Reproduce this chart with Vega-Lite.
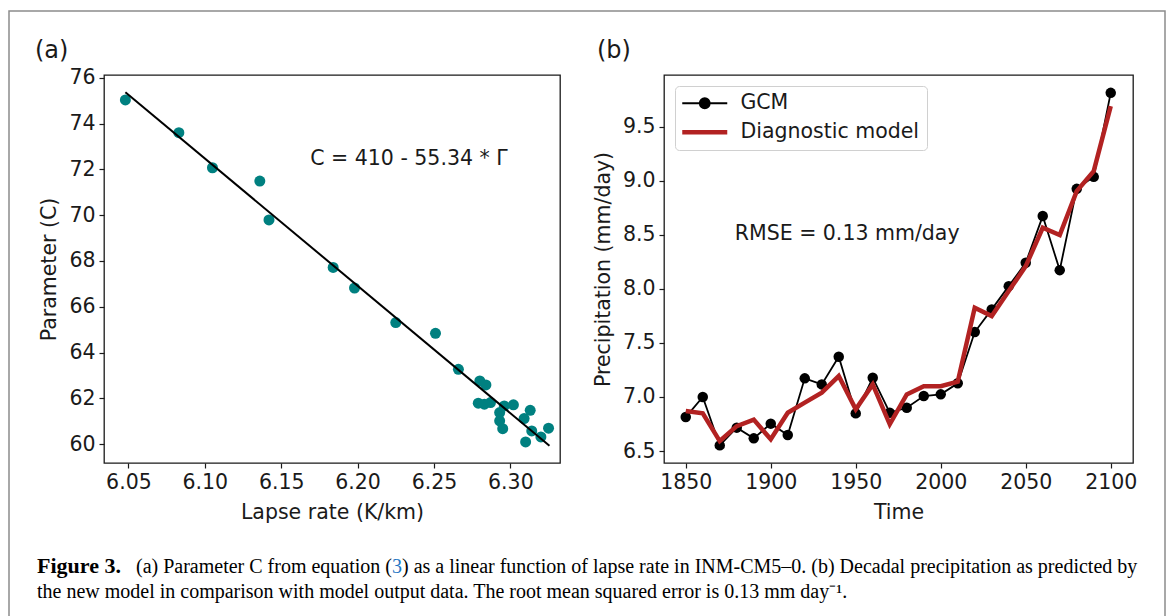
{
  "$schema": "https://vega.github.io/schema/vega-lite/v6.json",
  "padding": {"left": 8, "top": 10, "right": 0, "bottom": 0},
  "autosize": {"type": "pad"},
  "background": "white",
  "bounds": "flush",
  "columns": 2,
  "spacing": {"row": 83, "column": 104},
  "resolve": {"scale": {"color": "independent"}, "legend": {"color": "independent"}},
  "config": {
    "font": "DejaVu Sans",
    "view": {"stroke": "#1a1a1a", "strokeWidth": 1.3},
    "axis": {"grid": false, "domain": false, "tickColor": "#1a1a1a", "tickSize": 5, "tickWidth": 1.2,
      "labelFont": "DejaVu Sans", "labelFontSize": 20.5, "labelColor": "#1a1a1a", "labelPadding": 4,
      "labelOverlap": false, "labelFlush": false,
      "titleFont": "DejaVu Sans", "titleFontSize": 20.5, "titleFontWeight": "normal", "titleColor": "#1a1a1a"},
    "axisX": {"titlePadding": 10},
    "axisY": {"titlePadding": 9},
    "title": {"font": "DejaVu Sans", "fontSize": 24, "fontWeight": "normal", "color": "#1a1a1a", "anchor": "start", "frame": "group"}
  },
  "datasets": {
    "a": [
      {"lapse": 6.048, "C": 75.03}, {"lapse": 6.083, "C": 73.60}, {"lapse": 6.105, "C": 72.07},
      {"lapse": 6.136, "C": 71.49}, {"lapse": 6.142, "C": 69.79}, {"lapse": 6.184, "C": 67.72},
      {"lapse": 6.198, "C": 66.82}, {"lapse": 6.225, "C": 65.31}, {"lapse": 6.251, "C": 64.84},
      {"lapse": 6.266, "C": 63.27}, {"lapse": 6.280, "C": 62.76}, {"lapse": 6.284, "C": 62.59},
      {"lapse": 6.279, "C": 61.79}, {"lapse": 6.283, "C": 61.75}, {"lapse": 6.287, "C": 61.82},
      {"lapse": 6.293, "C": 61.38}, {"lapse": 6.296, "C": 61.67}, {"lapse": 6.302, "C": 61.72},
      {"lapse": 6.293, "C": 61.02}, {"lapse": 6.295, "C": 60.68}, {"lapse": 6.309, "C": 61.12},
      {"lapse": 6.313, "C": 61.48}, {"lapse": 6.314, "C": 60.58}, {"lapse": 6.310, "C": 60.10},
      {"lapse": 6.320, "C": 60.32}, {"lapse": 6.325, "C": 60.70}
    ],
    "fit": [{"lapse": 6.048, "C": 75.37}, {"lapse": 6.3256, "C": 59.93}],
    "b": [
      {"year": 1850, "series": "GCM", "value": 6.814}, {"year": 1860, "series": "GCM", "value": 7.0},
      {"year": 1870, "series": "GCM", "value": 6.552}, {"year": 1880, "series": "GCM", "value": 6.716},
      {"year": 1890, "series": "GCM", "value": 6.617}, {"year": 1900, "series": "GCM", "value": 6.753},
      {"year": 1910, "series": "GCM", "value": 6.648}, {"year": 1920, "series": "GCM", "value": 7.172},
      {"year": 1930, "series": "GCM", "value": 7.116}, {"year": 1940, "series": "GCM", "value": 7.372},
      {"year": 1950, "series": "GCM", "value": 6.848}, {"year": 1960, "series": "GCM", "value": 7.178},
      {"year": 1970, "series": "GCM", "value": 6.854}, {"year": 1980, "series": "GCM", "value": 6.90},
      {"year": 1990, "series": "GCM", "value": 7.008}, {"year": 2000, "series": "GCM", "value": 7.024},
      {"year": 2010, "series": "GCM", "value": 7.126}, {"year": 2020, "series": "GCM", "value": 7.60},
      {"year": 2030, "series": "GCM", "value": 7.81}, {"year": 2040, "series": "GCM", "value": 8.025},
      {"year": 2050, "series": "GCM", "value": 8.241}, {"year": 2060, "series": "GCM", "value": 8.673},
      {"year": 2070, "series": "GCM", "value": 8.173}, {"year": 2080, "series": "GCM", "value": 8.925},
      {"year": 2090, "series": "GCM", "value": 9.036}, {"year": 2100, "series": "GCM", "value": 9.813},
      {"year": 1850, "series": "Diagnostic model", "value": 6.87}, {"year": 1860, "series": "Diagnostic model", "value": 6.848},
      {"year": 1870, "series": "Diagnostic model", "value": 6.592}, {"year": 1880, "series": "Diagnostic model", "value": 6.73},
      {"year": 1890, "series": "Diagnostic model", "value": 6.79}, {"year": 1900, "series": "Diagnostic model", "value": 6.608},
      {"year": 1910, "series": "Diagnostic model", "value": 6.854}, {"year": 1920, "series": "Diagnostic model", "value": 6.947},
      {"year": 1930, "series": "Diagnostic model", "value": 7.039}, {"year": 1940, "series": "Diagnostic model", "value": 7.193},
      {"year": 1950, "series": "Diagnostic model", "value": 6.885}, {"year": 1960, "series": "Diagnostic model", "value": 7.116},
      {"year": 1970, "series": "Diagnostic model", "value": 6.747}, {"year": 1980, "series": "Diagnostic model", "value": 7.024},
      {"year": 1990, "series": "Diagnostic model", "value": 7.10}, {"year": 2000, "series": "Diagnostic model", "value": 7.10},
      {"year": 2010, "series": "Diagnostic model", "value": 7.141}, {"year": 2020, "series": "Diagnostic model", "value": 7.825},
      {"year": 2030, "series": "Diagnostic model", "value": 7.748}, {"year": 2040, "series": "Diagnostic model", "value": 7.979},
      {"year": 2050, "series": "Diagnostic model", "value": 8.21}, {"year": 2060, "series": "Diagnostic model", "value": 8.565},
      {"year": 2070, "series": "Diagnostic model", "value": 8.497}, {"year": 2080, "series": "Diagnostic model", "value": 8.904},
      {"year": 2090, "series": "Diagnostic model", "value": 9.089}, {"year": 2100, "series": "Diagnostic model", "value": 9.69}
    ],
    "caption": [
      {"part": "label", "text": "Figure 3."},
      {"part": "line1a", "text": "(a) Parameter C from equation ("},
      {"part": "line1b", "text": "3"},
      {"part": "line1c", "text": ") as a linear function of lapse rate in INM-CM5–0. (b) Decadal precipitation as predicted by"},
      {"part": "line2", "text": "the new model in comparison with model output data. The root mean squared error is 0.13 mm day⁻¹."}
    ],
    "frame": [{"frame": "figure"}]
  },
  "concat": [
    {
      "width": 456, "height": 388,
      "title": {"text": "(a)", "dx": -69, "offset": 5},
      "layer": [
        {
          "data": {"name": "a"},
          "mark": {"type": "circle", "size": 121, "color": "#008080", "opacity": 1},
          "encoding": {
            "x": {"field": "lapse", "type": "quantitative", "scale": {"domain": [6.034, 6.3325], "nice": false, "zero": false},
              "axis": {"values": [6.05, 6.1, 6.15, 6.2, 6.25, 6.3], "format": ".2f", "title": "Lapse rate (K/km)"}},
            "y": {"field": "C", "type": "quantitative", "scale": {"domain": [59.18, 76.12], "nice": false, "zero": false},
              "axis": {"values": [60, 62, 64, 66, 68, 70, 72, 74, 76], "title": "Parameter (C)"}}
          }
        },
        {
          "data": {"name": "fit"},
          "mark": {"type": "line", "color": "black", "strokeWidth": 2},
          "encoding": {
            "x": {"field": "lapse", "type": "quantitative"},
            "y": {"field": "C", "type": "quantitative"}
          }
        },
        {
          "data": {"values": [{"label": "C = 410 - 55.34 * Γ"}]},
          "mark": {"type": "text", "align": "left", "baseline": "middle", "fontSize": 20.5, "font": "DejaVu Sans", "color": "#1a1a1a"},
          "encoding": {
            "x": {"datum": 6.169, "type": "quantitative"},
            "y": {"datum": 72.44, "type": "quantitative"},
            "text": {"field": "label"}
          }
        }
      ]
    },
    {
      "width": 469, "height": 388,
      "title": {"text": "(b)", "dx": -67, "offset": 12},
      "layer": [
        {
          "data": {"name": "b"},
          "transform": [{"filter": "datum.series === 'GCM'"}],
          "mark": {"type": "line", "strokeWidth": 1.8},
          "encoding": {
            "x": {"field": "year", "type": "quantitative", "scale": {"domain": [1837.2, 2113.1], "nice": false, "zero": false},
              "axis": {"values": [1850, 1900, 1950, 2000, 2050, 2100], "format": "d", "title": "Time"}},
            "y": {"field": "value", "type": "quantitative", "scale": {"domain": [6.389, 9.978], "nice": false, "zero": false},
              "axis": {"values": [6.5, 7.0, 7.5, 8.0, 8.5, 9.0, 9.5], "format": ".1f", "title": "Precipitation (mm/day)"}},
            "color": {"field": "series", "type": "nominal",
              "scale": {"domain": ["GCM", "Diagnostic model"], "range": ["black", "#b22222"]},
              "legend": {"title": null, "orient": "top-left", "offset": 11, "padding": 7,
                "labelFont": "DejaVu Sans", "labelFontSize": 20.5, "labelColor": "#1a1a1a", "labelLimit": 0,
                "symbolType": "stroke", "symbolSize": 100, "symbolOffset": 12.5, "labelOffset": 25.4,
                "rowPadding": 8, "strokeColor": "#d0d0d0", "fillColor": "white", "cornerRadius": 4,
                "encode": {"symbols": {"update": {
                  "shape": {"signal": "datum.value === 'GCM' ? 'M-4.5,0L4.5,0M1,0A1,1,0,1,1,-1,0A1,1,0,1,1,1,0Z' : 'M-4.5,0L4.5,0'"},
                  "fill": {"signal": "datum.value === 'GCM' ? 'black' : 'transparent'"},
                  "strokeWidth": {"signal": "datum.value === 'GCM' ? 1.8 : 4.5"},
                  "opacity": {"value": 1}
                }}}}
            }
          }
        },
        {
          "data": {"name": "b"},
          "transform": [{"filter": "datum.series === 'GCM'"}],
          "mark": {"type": "circle", "size": 110, "color": "black", "opacity": 1},
          "encoding": {
            "x": {"field": "year", "type": "quantitative"},
            "y": {"field": "value", "type": "quantitative"}
          }
        },
        {
          "data": {"name": "b"},
          "transform": [{"filter": "datum.series === 'Diagnostic model'"}],
          "mark": {"type": "line", "strokeWidth": 4.5},
          "encoding": {
            "x": {"field": "year", "type": "quantitative"},
            "y": {"field": "value", "type": "quantitative"},
            "color": {"field": "series", "type": "nominal"}
          }
        },
        {
          "data": {"values": [{"label": "RMSE = 0.13 mm/day"}]},
          "mark": {"type": "text", "align": "left", "baseline": "middle", "fontSize": 20.5, "font": "DejaVu Sans", "color": "#1a1a1a"},
          "encoding": {
            "x": {"datum": 1878.8, "type": "quantitative"},
            "y": {"datum": 8.503, "type": "quantitative"},
            "text": {"field": "label"}
          }
        }
      ]
    },
    {
      "width": 456, "height": 40,
      "view": {"stroke": null},
      "layer": [
        {
          "data": {"name": "frame"},
          "mark": {"type": "rect", "fillOpacity": 0, "stroke": "#8c8c8c", "strokeWidth": 1.5},
          "encoding": {
            "x": {"datum": 0, "type": "quantitative", "scale": {"domain": [0, 1], "range": [-95, 1061]}, "axis": null},
            "x2": {"datum": 1},
            "y": {"datum": 0, "type": "quantitative", "scale": {"domain": [0, 1], "range": [85, -535]}, "axis": null},
            "y2": {"datum": 1}
          }
        },
        {
          "data": {"name": "caption"},
          "transform": [{"filter": "datum.part === 'label'"}],
          "mark": {"type": "text", "align": "left", "baseline": "alphabetic", "font": "Liberation Serif", "fontWeight": "bold", "fontSize": 22, "color": "black"},
          "encoding": {
            "x": {"datum": 0.0242, "type": "quantitative"},
            "y": {"datum": 0.0935, "type": "quantitative"},
            "text": {"field": "text"}
          }
        },
        {
          "data": {"name": "caption"},
          "transform": [{"filter": "datum.part === 'line1a'"}],
          "mark": {"type": "text", "align": "left", "baseline": "alphabetic", "font": "Liberation Serif", "fontSize": 20, "color": "black", "dx": 99},
          "encoding": {
            "x": {"datum": 0.0242, "type": "quantitative"},
            "y": {"datum": 0.0935, "type": "quantitative"},
            "text": {"field": "text"}
          }
        },
        {
          "data": {"name": "caption"},
          "transform": [{"filter": "datum.part === 'line1b'"}],
          "mark": {"type": "text", "align": "left", "baseline": "alphabetic", "font": "Liberation Serif", "fontSize": 20, "color": "#1f77c4", "dx": 355},
          "encoding": {
            "x": {"datum": 0.0242, "type": "quantitative"},
            "y": {"datum": 0.0935, "type": "quantitative"},
            "text": {"field": "text"}
          }
        },
        {
          "data": {"name": "caption"},
          "transform": [{"filter": "datum.part === 'line1c'"}],
          "mark": {"type": "text", "align": "left", "baseline": "alphabetic", "font": "Liberation Serif", "fontSize": 20, "color": "black", "dx": 365},
          "encoding": {
            "x": {"datum": 0.0242, "type": "quantitative"},
            "y": {"datum": 0.0935, "type": "quantitative"},
            "text": {"field": "text"}
          }
        },
        {
          "data": {"name": "caption"},
          "transform": [{"filter": "datum.part === 'line2'"}],
          "mark": {"type": "text", "align": "left", "baseline": "alphabetic", "font": "Liberation Serif", "fontSize": 20, "color": "black", "dy": 25},
          "encoding": {
            "x": {"datum": 0.0242, "type": "quantitative"},
            "y": {"datum": 0.0935, "type": "quantitative"},
            "text": {"field": "text"}
          }
        }
      ]
    }
  ]
}
